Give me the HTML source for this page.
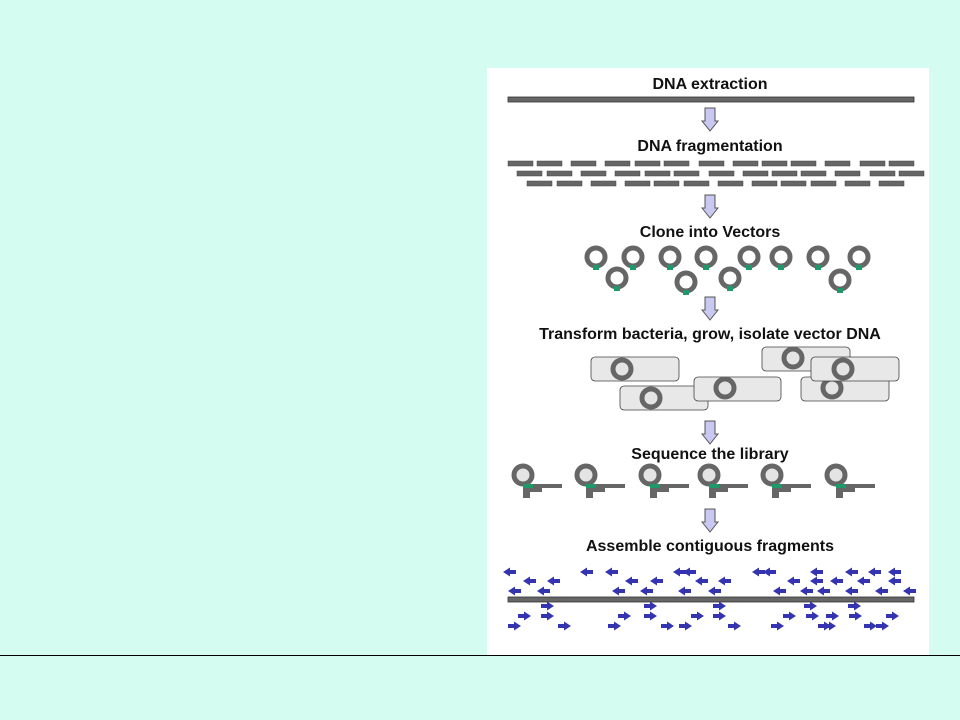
<!DOCTYPE html>
<html><head><meta charset="utf-8"><style>
html,body{margin:0;padding:0;background:#d5fcf0;width:960px;height:720px;overflow:hidden}
svg{display:block}
text{font-family:"Liberation Sans",Arial,sans-serif;font-weight:bold;font-size:16px;fill:#111;text-anchor:middle}
</style></head><body>
<svg width="960" height="720" viewBox="0 0 960 720">
<defs>
<g id="A"><polygon points="705,0 715,0 715,13 718,13 710,23 702,13 705,13" fill="#c8c8f0" stroke="#555" stroke-width="1"/></g>
<g id="V"><circle r="9" fill="#fff" stroke="#666" stroke-width="5"/><rect x="-3" y="8" width="6" height="5" fill="#1e9a6a"/></g>
<g id="C"><circle r="9" fill="#e4e4e4" stroke="#666" stroke-width="5"/></g>
<g id="S"><circle cx="0" cy="0" r="9" fill="#e4e4e4" stroke="#666" stroke-width="5"/><rect x="7" y="9" width="32" height="4" fill="#666"/><rect x="0" y="13" width="19" height="4" fill="#666"/><rect x="0" y="13" width="7" height="10" fill="#666"/><rect x="0" y="9" width="10" height="4" fill="#1e9a6a"/></g>
<g id="L"><polygon points="-7,0 0,-4.5 0,4.5" fill="#3434b0"/><rect x="0" y="-2" width="6" height="4" fill="#3434b0"/></g>
<g id="R"><polygon points="7,0 0,-4.5 0,4.5" fill="#3434b0"/><rect x="-6" y="-2" width="6" height="4" fill="#3434b0"/></g>
<rect id="F" width="25" height="5" fill="#666" stroke="#444" stroke-width="0.5"/>
</defs>
<rect x="487" y="68" width="442" height="587" fill="#fff"/>
<line x1="0" y1="655.5" x2="960" y2="655.5" stroke="#000" stroke-width="1"/>

<text x="710" y="89">DNA extraction</text>
<rect x="508" y="97" width="406" height="5" fill="#666" stroke="#333" stroke-width="0.8"/>
<use href="#A" y="108"/>
<text x="710" y="151">DNA fragmentation</text>
<g>
<use href="#F" x="508" y="161"/><use href="#F" x="537" y="161"/><use href="#F" x="571" y="161"/><use href="#F" x="605" y="161"/><use href="#F" x="635" y="161"/><use href="#F" x="664" y="161"/><use href="#F" x="699" y="161"/><use href="#F" x="733" y="161"/><use href="#F" x="762" y="161"/><use href="#F" x="791" y="161"/><use href="#F" x="825" y="161"/><use href="#F" x="860" y="161"/><use href="#F" x="889" y="161"/>
<use href="#F" x="517" y="171"/><use href="#F" x="547" y="171"/><use href="#F" x="581" y="171"/><use href="#F" x="615" y="171"/><use href="#F" x="645" y="171"/><use href="#F" x="674" y="171"/><use href="#F" x="709" y="171"/><use href="#F" x="743" y="171"/><use href="#F" x="772" y="171"/><use href="#F" x="801" y="171"/><use href="#F" x="835" y="171"/><use href="#F" x="870" y="171"/><use href="#F" x="899" y="171"/>
<use href="#F" x="527" y="181"/><use href="#F" x="557" y="181"/><use href="#F" x="591" y="181"/><use href="#F" x="625" y="181"/><use href="#F" x="654" y="181"/><use href="#F" x="684" y="181"/><use href="#F" x="718" y="181"/><use href="#F" x="752" y="181"/><use href="#F" x="781" y="181"/><use href="#F" x="811" y="181"/><use href="#F" x="845" y="181"/><use href="#F" x="879" y="181"/>
</g>
<use href="#A" y="195"/>
<text x="710" y="237">Clone into Vectors</text>
<use href="#V" x="596" y="257"/><use href="#V" x="633" y="257"/><use href="#V" x="670" y="257"/><use href="#V" x="706" y="257"/><use href="#V" x="749" y="257"/><use href="#V" x="781" y="257"/><use href="#V" x="818" y="257"/><use href="#V" x="859" y="257"/>
<use href="#V" x="617" y="278"/><use href="#V" x="686" y="282"/><use href="#V" x="730" y="278"/><use href="#V" x="840" y="280"/>
<use href="#A" y="297"/>
<text x="710" y="339">Transform bacteria, grow, isolate vector DNA</text>
<g stroke="#444" stroke-width="0.8" fill="#e8e8e8">
<rect x="591" y="357" width="88" height="24" rx="4"/><use href="#C" x="622" y="369"/>
<rect x="620" y="386" width="88" height="24" rx="4"/><use href="#C" x="651" y="398"/>
<rect x="694" y="377" width="87" height="24" rx="4"/><use href="#C" x="725" y="388"/>
<rect x="762" y="347" width="88" height="24" rx="4"/><use href="#C" x="793" y="358"/>
<rect x="801" y="377" width="88" height="24" rx="4"/><use href="#C" x="832" y="388"/>
<rect x="811" y="357" width="88" height="24" rx="4"/><use href="#C" x="843" y="369"/>
</g>
<use href="#A" y="421"/>
<text x="710" y="459">Sequence the library</text>
<use href="#S" x="523" y="475"/><use href="#S" x="586" y="475"/><use href="#S" x="650" y="475"/><use href="#S" x="709" y="475"/><use href="#S" x="772" y="475"/><use href="#S" x="836" y="475"/>
<use href="#A" y="509"/>
<text x="710" y="551">Assemble contiguous fragments</text>
<rect x="508" y="597" width="406" height="5" fill="#666" stroke="#333" stroke-width="0.8"/>
<use href="#L" x="510" y="572"/><use href="#L" x="530" y="581"/><use href="#L" x="554" y="581"/><use href="#L" x="515" y="591"/><use href="#L" x="544" y="591"/><use href="#L" x="587" y="572"/><use href="#L" x="612" y="572"/><use href="#L" x="632" y="581"/><use href="#L" x="657" y="581"/><use href="#L" x="619" y="591"/><use href="#L" x="647" y="591"/><use href="#L" x="680" y="572"/><use href="#L" x="690" y="572"/><use href="#L" x="702" y="581"/><use href="#L" x="725" y="581"/><use href="#L" x="685" y="591"/><use href="#L" x="715" y="591"/><use href="#L" x="759" y="572"/><use href="#L" x="770" y="572"/><use href="#L" x="794" y="581"/><use href="#L" x="780" y="591"/><use href="#L" x="817" y="572"/><use href="#L" x="817" y="581"/><use href="#L" x="837" y="581"/><use href="#L" x="852" y="572"/><use href="#L" x="864" y="581"/><use href="#L" x="875" y="572"/><use href="#L" x="895" y="572"/><use href="#L" x="895" y="581"/><use href="#L" x="807" y="591"/><use href="#L" x="824" y="591"/><use href="#L" x="852" y="591"/><use href="#L" x="882" y="591"/><use href="#L" x="910" y="591"/>
<use href="#R" x="547" y="606"/><use href="#R" x="547" y="616"/><use href="#R" x="524" y="616"/><use href="#R" x="514" y="626"/><use href="#R" x="564" y="626"/><use href="#R" x="624" y="616"/><use href="#R" x="614" y="626"/><use href="#R" x="650" y="606"/><use href="#R" x="650" y="616"/><use href="#R" x="667" y="626"/><use href="#R" x="685" y="626"/><use href="#R" x="697" y="616"/><use href="#R" x="719" y="606"/><use href="#R" x="719" y="616"/><use href="#R" x="734" y="626"/><use href="#R" x="777" y="626"/><use href="#R" x="789" y="616"/><use href="#R" x="810" y="606"/><use href="#R" x="812" y="616"/><use href="#R" x="832" y="616"/><use href="#R" x="824" y="626"/><use href="#R" x="829" y="626"/><use href="#R" x="854" y="606"/><use href="#R" x="855" y="616"/><use href="#R" x="870" y="626"/><use href="#R" x="882" y="626"/><use href="#R" x="892" y="616"/>
</svg>
</body></html>
